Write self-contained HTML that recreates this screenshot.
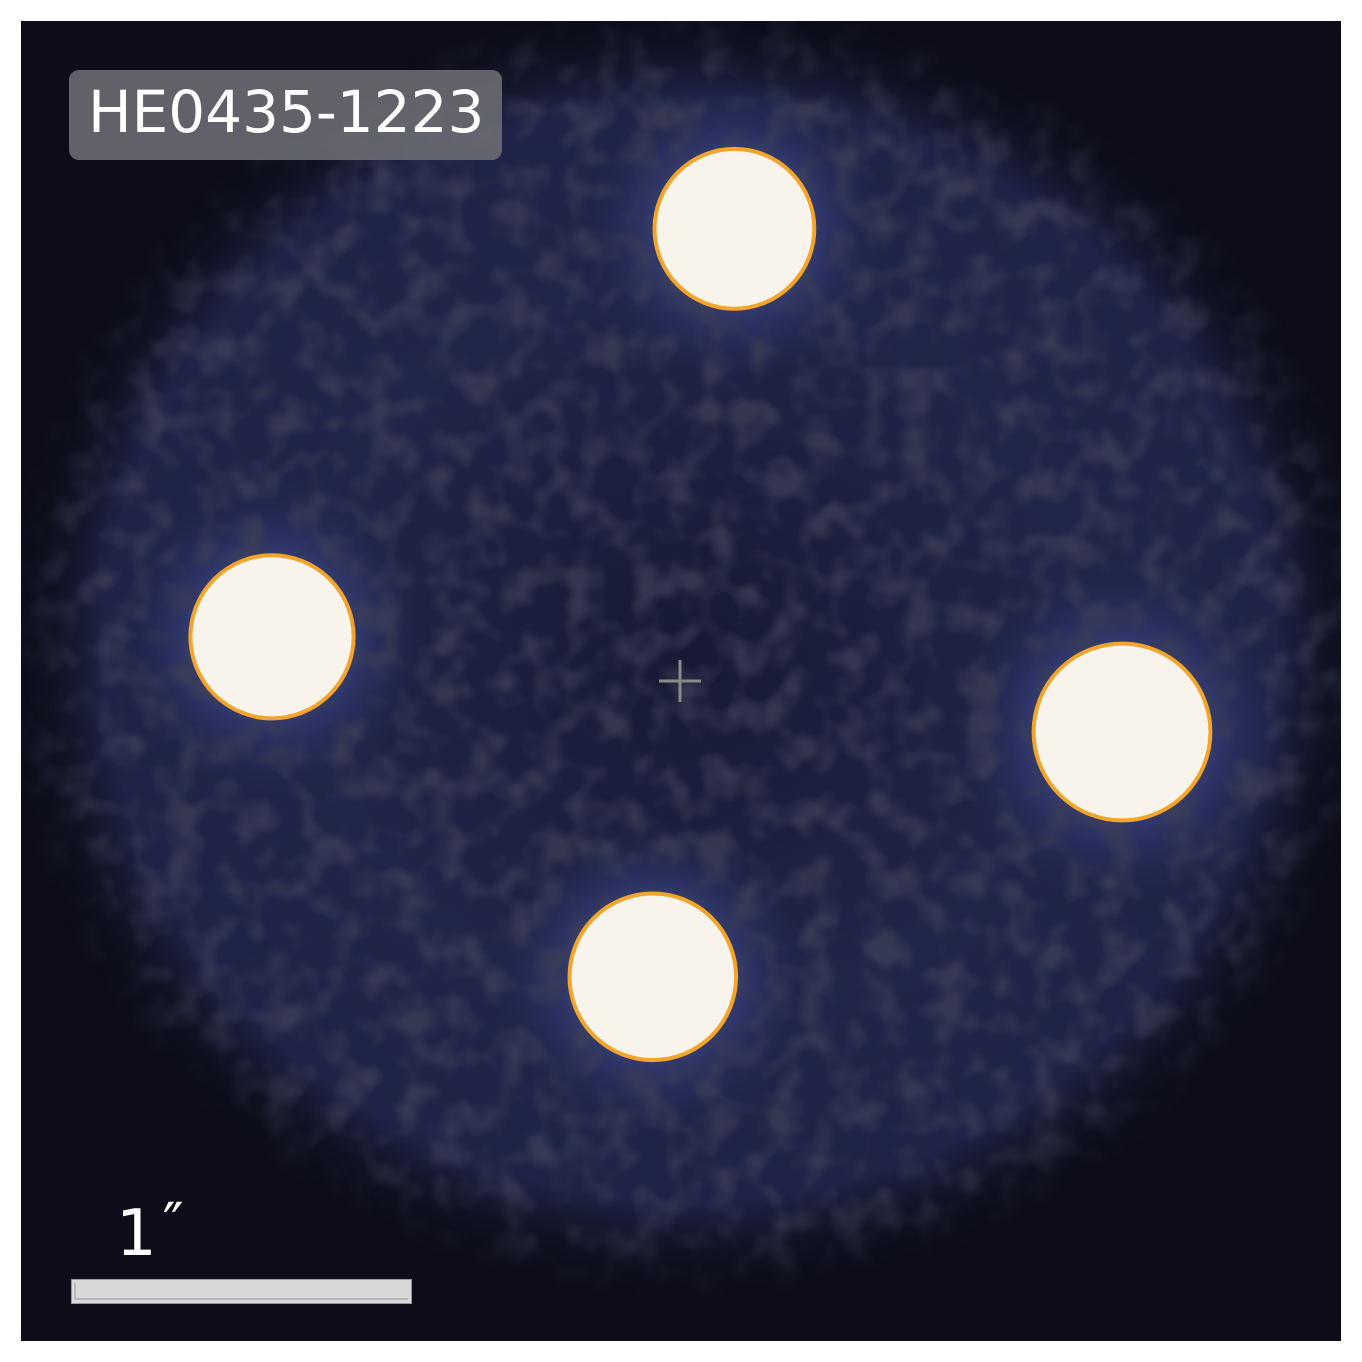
<!DOCTYPE html>
<html><head><meta charset="utf-8"><style>
html,body{margin:0;padding:0;background:#fff;}
svg{display:block;}
</style></head><body>
<svg id="chart" width="1362" height="1362" viewBox="0 0 1362 1362" xmlns="http://www.w3.org/2000/svg">
<defs>
<clipPath id="clip"><rect x="21" y="21" width="1320" height="1320"/></clipPath>
<radialGradient id="glow" cx="0.5" cy="0.5" r="0.5">
<stop offset="0" stop-color="#171a33"/>
<stop offset="0.55" stop-color="#20254a"/>
<stop offset="0.85" stop-color="#1e2347"/>
<stop offset="1" stop-color="#0c0d18" stop-opacity="0"/>
</radialGradient>
<radialGradient id="halo" cx="0.5" cy="0.5" r="0.5">
<stop offset="0.35" stop-color="#4a5396" stop-opacity="0.85"/>
<stop offset="0.7" stop-color="#323970" stop-opacity="0.45"/>
<stop offset="1" stop-color="#262c58" stop-opacity="0"/>
</radialGradient>
<radialGradient id="maskgrad" cx="0.5" cy="0.5" r="0.5">
<stop offset="0" stop-color="#fff"/>
<stop offset="0.85" stop-color="#fff"/>
<stop offset="1" stop-color="#000"/>
</radialGradient>
<mask id="m"><ellipse cx="690" cy="650" rx="690" ry="650" fill="url(#maskgrad)"/></mask>
<filter id="noise" x="0" y="0" width="100%" height="100%">
<feTurbulence type="fractalNoise" baseFrequency="0.03" numOctaves="2" seed="7"/>
<feColorMatrix type="matrix" values="0 0 0 0 0.047  0 0 0 0 0.05  0 0 0 0 0.094  0 0 0 -3 1.7"/>
</filter>
</defs>
<rect x="21" y="21" width="1320" height="1320" fill="#0c0d18"/>
<g clip-path="url(#clip)">
<ellipse cx="690" cy="650" rx="690" ry="650" fill="url(#glow)"/>
<g id="halos"></g>
<rect x="21" y="21" width="1320" height="1320" filter="url(#noise)" opacity="0.75" mask="url(#m)"/>
<g id="images"></g>
</g>
<g stroke="#8a8a8a" stroke-width="3">
<line x1="659" y1="681" x2="701" y2="681"/><line x1="680" y1="660" x2="680" y2="702"/>
</g>
<g>
<rect x="69" y="70" width="433" height="90" rx="10" fill="#6a6b72" fill-opacity="0.9"/>
<text x="88" y="132" font-family="'DejaVu Sans','Liberation Sans',sans-serif" font-size="58" fill="#ffffff">HE0435-1223</text>
</g>
<g>
<rect x="71.5" y="1279.5" width="340" height="24" fill="#d8d8d8" stroke="#999" stroke-width="1"/>
<polyline points="75,1283 75,1299 408,1299" fill="none" stroke="#9a9a9a" stroke-width="1"/>
<text x="116" y="1255" font-family="'DejaVu Sans','Liberation Sans',sans-serif" font-size="64" fill="#ffffff">1<tspan dx="6" dy="-12" font-size="56">″</tspan></text>
</g>
</svg>
<script>
const imageNames = ["A","B","C","D"];
const imageX = [0.16, -1.20, 1.30, -0.08];   // arcsec
const imageY = [-1.33, -0.13, 0.15, 0.87];   // arcsec
const imageR = [0.235, 0.24, 0.26, 0.245];   // arcsec
const pxPerArcsec = 340, cx0 = 680, cy0 = 681;
const sx = v => cx0 + v * pxPerArcsec;
const sy = v => cy0 + v * pxPerArcsec;
const sr = v => v * pxPerArcsec;
const NS = "http://www.w3.org/2000/svg";
const halos = document.getElementById("halos"), imgs = document.getElementById("images");
imageNames.forEach((n, i) => {
  const h = document.createElementNS(NS, "circle");
  h.setAttribute("cx", sx(imageX[i])); h.setAttribute("cy", sy(imageY[i]));
  h.setAttribute("r", sr(imageR[i]) * 1.9); h.setAttribute("fill", "url(#halo)");
  
  
  halos.appendChild(h);
  const c = document.createElementNS(NS, "circle");
  c.setAttribute("cx", sx(imageX[i])); c.setAttribute("cy", sy(imageY[i]));
  c.setAttribute("r", sr(imageR[i])); c.setAttribute("fill", "#f8f4ec");
  c.setAttribute("stroke", "#f2a52a"); c.setAttribute("stroke-width", "4");
  
  
  imgs.appendChild(c);
});
</script>
</body></html>
